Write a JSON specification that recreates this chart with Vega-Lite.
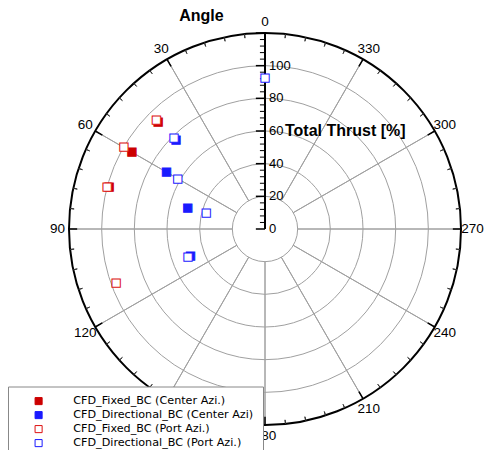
{
  "$schema": "https://vega.github.io/schema/vega-lite/v6.json",
  "width": 400,
  "height": 400,
  "autosize": {"type": "none"},
  "padding": {"left": 65, "top": 29, "right": 27, "bottom": 21},
  "background": "white",
  "config": {"view": {"stroke": null}, "text": {"font": "Liberation Sans", "color": "black"}},
  "layer": [
    {
      "data": {"values": [{"r": 20}, {"r": 40}, {"r": 60}, {"r": 80}, {"r": 100}]},
      "mark": {"type": "arc", "theta": 0, "theta2": 6.2832, "filled": false, "stroke": "#a0a0a0", "strokeWidth": 1},
      "encoding": {
        "radius": {"field": "r", "type": "quantitative", "stack": null, "scale": {"type": "linear", "domain": [0, 120], "range": [0, 196], "zero": true, "nice": false}}
      }
    },
    {
      "data": {"values": [{"a": 30}, {"a": 60}, {"a": 90}, {"a": 120}, {"a": 150}, {"a": 180}, {"a": 210}, {"a": 240}, {"a": 270}, {"a": 300}, {"a": 330}]},
      "mark": {"type": "arc", "filled": false, "stroke": "#a0a0a0", "strokeWidth": 1},
      "encoding": {
        "theta": {"field": "a", "type": "quantitative", "stack": null, "scale": {"type": "linear", "domain": [0, 360], "range": [6.283185307179586, 0], "zero": false, "nice": false}},
        "theta2": {"field": "a"},
        "radius": {"datum": 120, "type": "quantitative", "scale": {"type": "linear", "domain": [0, 120], "range": [0, 196], "zero": true, "nice": false}},
        "radius2": {"datum": 20}
      }
    },
    {
      "data": {"values": [{"r": 120}]},
      "mark": {"type": "arc", "theta": 0, "theta2": 6.2832, "filled": false, "stroke": "black", "strokeWidth": 2},
      "encoding": {
        "radius": {"field": "r", "type": "quantitative", "stack": null, "scale": {"type": "linear", "domain": [0, 120], "range": [0, 196], "zero": true, "nice": false}}
      }
    },
    {
      "data": {"values": [{"a": 0}, {"a": 30}, {"a": 60}, {"a": 90}, {"a": 120}, {"a": 150}, {"a": 180}, {"a": 210}, {"a": 240}, {"a": 270}, {"a": 300}, {"a": 330}]},
      "mark": {"type": "arc", "filled": false, "stroke": "black", "strokeWidth": 1.5},
      "encoding": {
        "theta": {"field": "a", "type": "quantitative", "stack": null, "scale": {"type": "linear", "domain": [0, 360], "range": [6.283185307179586, 0], "zero": false, "nice": false}},
        "theta2": {"field": "a"},
        "radius": {"datum": 120, "type": "quantitative", "scale": {"type": "linear", "domain": [0, 120], "range": [0, 196], "zero": true, "nice": false}},
        "radius2": {"datum": 115}
      }
    },
    {
      "data": {"values": [{"a": 6}, {"a": 12}, {"a": 18}, {"a": 24}, {"a": 36}, {"a": 42}, {"a": 48}, {"a": 54}, {"a": 66}, {"a": 72}, {"a": 78}, {"a": 84}, {"a": 96}, {"a": 102}, {"a": 108}, {"a": 114}, {"a": 126}, {"a": 132}, {"a": 138}, {"a": 144}, {"a": 156}, {"a": 162}, {"a": 168}, {"a": 174}, {"a": 186}, {"a": 192}, {"a": 198}, {"a": 204}, {"a": 216}, {"a": 222}, {"a": 228}, {"a": 234}, {"a": 246}, {"a": 252}, {"a": 258}, {"a": 264}, {"a": 276}, {"a": 282}, {"a": 288}, {"a": 294}, {"a": 306}, {"a": 312}, {"a": 318}, {"a": 324}, {"a": 336}, {"a": 342}, {"a": 348}, {"a": 354}]},
      "mark": {"type": "arc", "filled": false, "stroke": "#333333", "strokeWidth": 1},
      "encoding": {
        "theta": {"field": "a", "type": "quantitative", "stack": null, "scale": {"type": "linear", "domain": [0, 360], "range": [6.283185307179586, 0], "zero": false, "nice": false}},
        "theta2": {"field": "a"},
        "radius": {"datum": 120, "type": "quantitative", "scale": {"type": "linear", "domain": [0, 120], "range": [0, 196], "zero": true, "nice": false}},
        "radius2": {"datum": 117.5}
      }
    },
    {
      "data": {"values": [{"a": 0}, {"a": 30}, {"a": 60}, {"a": 90}, {"a": 120}, {"a": 150}, {"a": 180}, {"a": 210}, {"a": 240}, {"a": 270}, {"a": 300}, {"a": 330}]},
      "mark": {"type": "text", "fontSize": 13.5, "align": "center", "baseline": "middle", "color": "black"},
      "encoding": {
        "theta": {"field": "a", "type": "quantitative", "stack": null, "scale": {"type": "linear", "domain": [0, 360], "range": [6.283185307179586, 0], "zero": false, "nice": false}},
        "radius": {"datum": 127, "type": "quantitative", "scale": {"type": "linear", "domain": [0, 120], "range": [0, 196], "zero": true, "nice": false}},
        "text": {"field": "a", "type": "quantitative", "format": "d"}
      }
    },
    {
      "data": {"values": [{"r0": 0, "r1": 120}]},
      "mark": {"type": "rule", "color": "black", "strokeWidth": 2},
      "encoding": {
        "x": {"datum": 0, "type": "quantitative", "scale": {"domain": [-122.449, 122.449], "nice": false, "zero": false}, "axis": null},
        "y": {"field": "r0", "type": "quantitative", "scale": {"domain": [-122.449, 122.449], "nice": false, "zero": false}, "axis": null},
        "y2": {"field": "r1"}
      }
    },
    {
      "data": {"values": [{"r": 0}, {"r": 20}, {"r": 40}, {"r": 60}, {"r": 80}, {"r": 100}, {"r": 120}]},
      "mark": {"type": "rule", "color": "black", "strokeWidth": 1.5},
      "encoding": {
        "x": {"datum": -5.6, "type": "quantitative", "scale": {"domain": [-122.449, 122.449], "nice": false, "zero": false}, "axis": null},
        "x2": {"datum": 0},
        "y": {"field": "r", "type": "quantitative", "scale": {"domain": [-122.449, 122.449], "nice": false, "zero": false}, "axis": null}
      }
    },
    {
      "data": {"values": [{"r": 4}, {"r": 8}, {"r": 12}, {"r": 16}, {"r": 24}, {"r": 28}, {"r": 32}, {"r": 36}, {"r": 44}, {"r": 48}, {"r": 52}, {"r": 56}, {"r": 64}, {"r": 68}, {"r": 72}, {"r": 76}, {"r": 84}, {"r": 88}, {"r": 92}, {"r": 96}, {"r": 104}, {"r": 108}, {"r": 112}, {"r": 116}]},
      "mark": {"type": "rule", "color": "black", "strokeWidth": 1},
      "encoding": {
        "x": {"datum": -3.1, "type": "quantitative", "scale": {"domain": [-122.449, 122.449], "nice": false, "zero": false}, "axis": null},
        "x2": {"datum": 0},
        "y": {"field": "r", "type": "quantitative", "scale": {"domain": [-122.449, 122.449], "nice": false, "zero": false}, "axis": null}
      }
    },
    {
      "data": {"values": [{"r": 0}, {"r": 20}, {"r": 40}, {"r": 60}, {"r": 80}, {"r": 100}]},
      "mark": {"type": "text", "fontSize": 13, "align": "left", "baseline": "middle", "dx": 4, "color": "black"},
      "encoding": {
        "x": {"datum": 0, "type": "quantitative", "scale": {"domain": [-122.449, 122.449], "nice": false, "zero": false}, "axis": null},
        "y": {"field": "r", "type": "quantitative", "scale": {"domain": [-122.449, 122.449], "nice": false, "zero": false}, "axis": null},
        "text": {"field": "r", "type": "quantitative", "format": "d"}
      }
    },
    {
      "data": {"values": [{"r": 60, "label": "Total Thrust [%]"}]},
      "mark": {"type": "text", "fontSize": 16, "fontWeight": "bold", "align": "left", "baseline": "middle", "dx": 20, "color": "black"},
      "encoding": {
        "x": {"datum": 0, "type": "quantitative", "scale": {"domain": [-122.449, 122.449], "nice": false, "zero": false}, "axis": null},
        "y": {"field": "r", "type": "quantitative", "scale": {"domain": [-122.449, 122.449], "nice": false, "zero": false}, "axis": null},
        "text": {"field": "label"}
      }
    },
    {
      "data": {"values": [{"label": "Angle"}]},
      "mark": {"type": "text", "fontSize": 16, "fontWeight": "bold", "align": "center", "baseline": "middle", "color": "black"},
      "encoding": {
        "x": {"datum": -38.9, "type": "quantitative", "scale": {"domain": [-122.449, 122.449], "nice": false, "zero": false}, "axis": null},
        "y": {"datum": 130.6, "type": "quantitative", "scale": {"domain": [-122.449, 122.449], "nice": false, "zero": false}, "axis": null},
        "text": {"field": "label"}
      }
    },
    {
      "data": {"values": [
        {"series": "CFD_Fixed_BC (Center Azi.)", "angle": 45, "thrust": 92.5},
        {"series": "CFD_Fixed_BC (Center Azi.)", "angle": 60, "thrust": 94},
        {"series": "CFD_Fixed_BC (Center Azi.)", "angle": 75, "thrust": 98.8},
        {"series": "CFD_Directional_BC (Center Azi)", "angle": 45, "thrust": 77},
        {"series": "CFD_Directional_BC (Center Azi)", "angle": 60, "thrust": 69.6},
        {"series": "CFD_Directional_BC (Center Azi)", "angle": 75, "thrust": 49},
        {"series": "CFD_Directional_BC (Center Azi)", "angle": 110, "thrust": 48.6},
        {"series": "CFD_Fixed_BC (Port Azi.)", "angle": 45, "thrust": 94},
        {"series": "CFD_Fixed_BC (Port Azi.)", "angle": 60, "thrust": 99.8},
        {"series": "CFD_Fixed_BC (Port Azi.)", "angle": 75, "thrust": 100},
        {"series": "CFD_Fixed_BC (Port Azi.)", "angle": 110, "thrust": 97},
        {"series": "CFD_Directional_BC (Port Azi.)", "angle": 0, "thrust": 92.4},
        {"series": "CFD_Directional_BC (Port Azi.)", "angle": 45, "thrust": 78.8},
        {"series": "CFD_Directional_BC (Port Azi.)", "angle": 60, "thrust": 61.7},
        {"series": "CFD_Directional_BC (Port Azi.)", "angle": 75, "thrust": 37.3},
        {"series": "CFD_Directional_BC (Port Azi.)", "angle": 110, "thrust": 50.2}
      ]},
      "mark": {"type": "text", "text": "■", "font": "DejaVu Sans", "fontSize": 11, "align": "center", "baseline": "middle", "strokeWidth": 1},
      "encoding": {
        "theta": {"field": "angle", "type": "quantitative", "stack": null, "scale": {"type": "linear", "domain": [0, 360], "range": [6.283185307179586, 0], "zero": false, "nice": false}},
        "radius": {"field": "thrust", "type": "quantitative", "stack": null, "scale": {"type": "linear", "domain": [0, 120], "range": [0, 196], "zero": true, "nice": false}},
        "fill": {
          "field": "series", "type": "nominal",
          "scale": {"domain": ["CFD_Fixed_BC (Center Azi.)", "CFD_Directional_BC (Center Azi)", "CFD_Fixed_BC (Port Azi.)", "CFD_Directional_BC (Port Azi.)"], "range": ["#cc0000", "#1a1aff", "#ffffff", "#ffffff"]},
          "legend": {"title": null, "orient": "none", "legendX": -57, "legendY": 357.5, "direction": "vertical", "symbolType": "square", "symbolSize": 50, "symbolStrokeWidth": 1, "labelFont": "DejaVu Sans", "labelFontSize": 11.2, "labelLimit": 0, "labelColor": "black", "fillColor": "white", "strokeColor": "#888888", "padding": 9, "symbolOffset": 16, "labelOffset": 29, "rowPadding": 1}
        },
        "stroke": {
          "field": "series", "type": "nominal",
          "scale": {"domain": ["CFD_Fixed_BC (Center Azi.)", "CFD_Directional_BC (Center Azi)", "CFD_Fixed_BC (Port Azi.)", "CFD_Directional_BC (Port Azi.)"], "range": ["#cc0000", "#1a1aff", "#dd1111", "#1a1aff"]},
          "legend": {"title": null, "orient": "none", "legendX": -57, "legendY": 357.5, "direction": "vertical", "symbolType": "square", "symbolSize": 50, "symbolStrokeWidth": 1, "labelFont": "DejaVu Sans", "labelFontSize": 11.2, "labelLimit": 0, "labelColor": "black", "fillColor": "white", "strokeColor": "#888888", "padding": 9, "symbolOffset": 16, "labelOffset": 29, "rowPadding": 1}
        }
      }
    }
  ]
}
